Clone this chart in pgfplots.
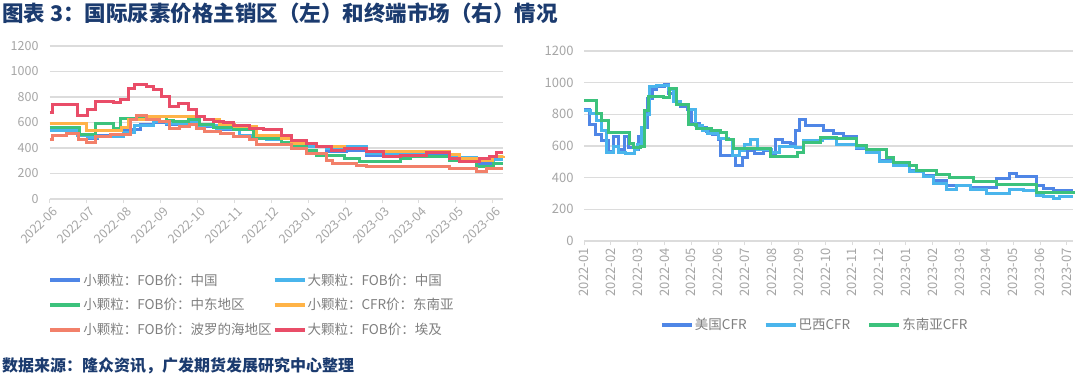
\documentclass[border=0pt]{standalone}
\usepackage{fontspec}
\setmainfont{Noto Sans CJK SC}
\usepackage{pgfplots}
\pgfplotsset{compat=1.18}
\definecolor{cBlue}{HTML}{4F86E6}
\definecolor{cLBlue}{HTML}{4AB5EC}
\definecolor{cGreen}{HTML}{3CC27C}
\definecolor{cOrange}{HTML}{FFB347}
\definecolor{cSalmon}{HTML}{F2806A}
\definecolor{cRed}{HTML}{E94D68}
\definecolor{gridgray}{HTML}{DCDCDC}
\definecolor{ticklab}{HTML}{A6A6A6}
\definecolor{legtext}{HTML}{7F7F7F}
\definecolor{navy}{HTML}{1B3B6F}
\pgfplotsset{
  base/.style={
    scale only axis,
    axis x line*=bottom, axis y line*=left,
    x axis line style={draw=gridgray, line width=1.2pt, -},
    y axis line style={draw=none},
    ymin=0, ymax=1200, ytick={0,200,...,1200},
    ymajorgrids, grid style={draw=gridgray, line width=1.2pt},
    major tick length=4pt, tick align=outside,
    xtick style={draw=gridgray, line width=1pt},
    ytick style={draw=none},
    /pgf/number format/assume math mode=true,
    /pgf/number format/1000 sep={},
    tick label style={text=ticklab},
    clip=false,
    every axis plot/.append style={const plot, line width=3pt, line join=miter},
    legend cell align=left,
    legend image code/.code={\draw[line width=4pt] (0pt,0pt) -- (30pt,0pt);},
  }
}
\begin{document}
\begin{tikzpicture}
\useasboundingbox (0pt,0pt) rectangle (1080pt,-381pt);
\fill[white] (0pt,0pt) rectangle (1080pt,-381pt);
\node[anchor=west, inner sep=0pt, text=navy, font=\fontsize{21.5}{25}\selectfont\bfseries] at (2pt,-13pt) {图表 3：国际尿素价格主销区（左）和终端市场（右）情况};
\node[anchor=west, inner sep=0pt, text=navy, font=\fontsize{16}{19}\selectfont\bfseries] at (2pt,-366pt) {数据来源：隆众资讯，广发期货发展研究中心整理};

% ---------------- left chart ----------------
\begin{axis}[base, at={(50pt,-199pt)}, anchor=south west, width=453pt, height=153pt,
  xmin=0, xmax=12.28, xtick={0,...,12},
  xticklabels={2022-06,2022-07,2022-08,2022-09,2022-10,2022-11,2022-12,2023-01,2023-02,2023-03,2023-04,2023-05,2023-06},
  xticklabel style={rotate=45, anchor=north east, font=\fontsize{12.5}{14}\selectfont, xshift=3pt},
  yticklabel style={font=\fontsize{12.5}{14}\selectfont, xshift=-4pt},
  legend columns=2,
  legend style={at={(-0.004,-0.48)}, anchor=north west, draw=none, fill=none, inner sep=0pt,
    font=\fontsize{13.5}{16}\selectfont, text=legtext, /tikz/row sep=10pt, nodes={inner sep=1pt}},
]
\addplot[cBlue] coordinates {(0,548) (0.75,496) (1.02,477) (1.3,496) (1.99,543) (2.44,582) (2.8,600) (3.16,582) (3.7,590) (4.06,569) (4.52,543) (5.15,490) (5.87,464) (6.28,434) (6.95,408) (7.49,369) (8.04,377) (8.58,343) (9.49,356) (10.84,304) (11.56,278) (12.01,317) (12.28,317)};
\addlegendentry{小颗粒：FOB价：中国}
\addplot[cLBlue] coordinates {(0,535) (0.75,500) (1.02,480) (1.3,490) (1.98,520) (2.3,575) (2.8,605) (3.16,590) (3.7,600) (4.06,575) (4.52,555) (5.15,500) (5.87,470) (6.28,440) (6.95,415) (7.49,400) (8.04,408) (8.58,355) (9.49,362) (10.84,322) (11.56,300) (12.01,312) (12.28,312)};
\addlegendentry{大颗粒：FOB价：中国}
\addplot[cGreen] coordinates {(0,563) (0.8,504) (1.22,595) (1.72,556) (1.9,634) (2.6,645) (3.16,616) (3.34,608) (3.75,626) (4.06,582) (4.43,561) (4.97,543) (5.51,477) (6.28,447) (6.55,421) (6.95,382) (7.22,343) (7.99,317) (8.4,296) (9.49,317) (9.76,330) (10.84,304) (11.11,291) (11.56,252) (12.01,278) (12.28,278)};
\addlegendentry{小颗粒：FOB价：中东地区}
\addplot[cOrange] coordinates {(0,590) (0.98,540) (1.95,558) (2.12,620) (2.62,650) (3.97,645) (4.2,621) (4.6,582) (5.0,569) (5.6,500) (6.28,473) (6.55,434) (7.22,408) (7.99,395) (8.58,369) (10.84,351) (11.11,317) (11.65,305) (12.0,330) (12.28,340)};
\addlegendentry{小颗粒：CFR价：东南亚}
\addplot[cSalmon] coordinates {(0,464) (0.07,496) (0.45,512) (0.77,464) (1.0,443) (1.22,490) (1.63,504) (2.17,626) (2.35,652) (2.62,626) (2.98,608) (3.25,556) (3.52,569) (3.79,582) (3.97,556) (4.2,530) (4.61,517) (4.97,490) (5.42,464) (5.6,425) (6.55,395) (6.95,356) (7.49,304) (7.67,278) (8.31,265) (8.58,252) (9.49,257) (10.84,239) (11.56,213) (11.83,239) (12.28,239)};
\addlegendentry{小颗粒：FOB价：波罗的海地区}
\addplot[cRed] coordinates {(0,678) (0.07,738) (0.75,652) (1.02,704) (1.22,765) (1.72,757) (1.9,777) (2.12,869) (2.3,895) (2.62,882) (2.8,856) (3.03,803) (3.25,725) (3.48,751) (3.75,699) (3.97,647) (4.2,620) (4.43,608) (4.7,600) (4.97,575) (5.42,555) (5.8,543) (6.28,499) (6.55,460) (6.95,434) (7.22,408) (7.63,382) (7.99,395) (8.58,369) (9.03,335) (9.49,343) (10.21,361) (10.84,317) (11.11,291) (11.65,317) (11.92,335) (12.1,361) (12.28,361)};
\addlegendentry{大颗粒：FOB价：埃及}
\end{axis}

% ---------------- right chart ----------------
\begin{axis}[base, at={(584pt,-241pt)}, anchor=south west, width=489pt, height=190pt,
  xmin=0, xmax=18.23, xtick={0,...,18},
  xticklabels={2022-01,2022-02,2022-03,2022-04,2022-05,2022-06,2022-07,2022-08,2022-09,2022-10,2022-11,2022-12,2023-01,2023-02,2023-03,2023-04,2023-05,2023-06,2023-07},
  xticklabel style={rotate=90, anchor=east, font=\fontsize{13}{15}\selectfont},
  yticklabel style={font=\fontsize{13}{15}\selectfont, xshift=-3pt},
  legend columns=3,
  legend style={at={(0.155,-0.442)}, anchor=west, draw=none, fill=none, inner sep=0pt,
    font=\fontsize{13.5}{16}\selectfont, text=legtext, nodes={inner sep=1pt},
    /tikz/every even column/.append style={column sep=16pt}},
]
\addplot[cBlue] coordinates {(0,832) (0.22,737) (0.41,674) (0.66,632) (0.91,568) (1.09,663) (1.28,580) (1.5,660) (1.65,590) (1.9,580) (2.05,660) (2.25,720) (2.35,900) (2.55,960) (2.7,975) (3.0,990) (3.15,930) (3.35,880) (3.6,850) (3.85,830) (4.0,740) (4.3,720) (4.55,690) (4.8,670) (5.0,640) (5.1,540) (5.5,540) (5.65,480) (5.9,530) (6.1,570) (6.35,555) (6.7,570) (7.0,555) (7.15,640) (7.4,620) (7.68,615) (7.87,699) (8.05,766) (8.24,730) (8.92,699) (9.29,678) (9.66,657) (10.16,583) (10.54,562) (11.03,509) (11.53,488) (12.15,446) (12.65,415) (13.02,383) (13.52,352) (14.39,341) (15.38,394) (15.88,429) (16.12,408) (16.87,352) (17.12,330) (17.49,320) (18.23,320)};
\addlegendentry{美国CFR}
\addplot[cLBlue] coordinates {(0,825) (0.25,808) (0.45,760) (0.66,700) (0.85,560) (1.1,600) (1.3,560) (1.55,555) (1.9,580) (2.0,610) (2.15,720) (2.3,800) (2.45,975) (2.7,980) (3.0,985) (3.15,960) (3.35,880) (3.6,860) (3.9,830) (4.15,730) (4.4,700) (4.6,680) (5.0,645) (5.4,640) (5.55,540) (5.8,570) (6.0,610) (6.2,640) (6.45,580) (7.0,560) (7.3,600) (7.9,590) (8.17,636) (8.9,650) (9.42,610) (9.9,610) (10.16,590) (10.54,560) (11.03,500) (11.53,480) (12.15,440) (12.65,405) (13.02,362) (13.52,324) (13.89,352) (14.39,324) (15.01,299) (15.38,303) (15.88,324) (16.37,320) (16.87,288) (17.12,278) (17.49,267) (17.74,284) (18.23,284)};
\addlegendentry{巴西CFR}
\addplot[cGreen] coordinates {(0,888) (0.47,808) (0.66,762) (0.91,684) (1.59,684) (1.71,615) (1.85,589) (2.1,600) (2.27,825) (2.4,910) (2.96,905) (3.2,962) (3.46,863) (3.88,737) (4.2,709) (4.76,699) (5.07,684) (5.33,642) (5.58,582) (6.95,535) (7.95,558) (8.2,621) (8.82,653) (9.42,645) (10.16,604) (10.54,577) (11.28,530) (11.53,493) (12.15,478) (12.4,446) (13.14,421) (13.64,400) (14.51,373) (15.38,358) (16.87,309) (18.23,315)};
\addlegendentry{东南亚CFR}
\end{axis}
\end{tikzpicture}
\end{document}
